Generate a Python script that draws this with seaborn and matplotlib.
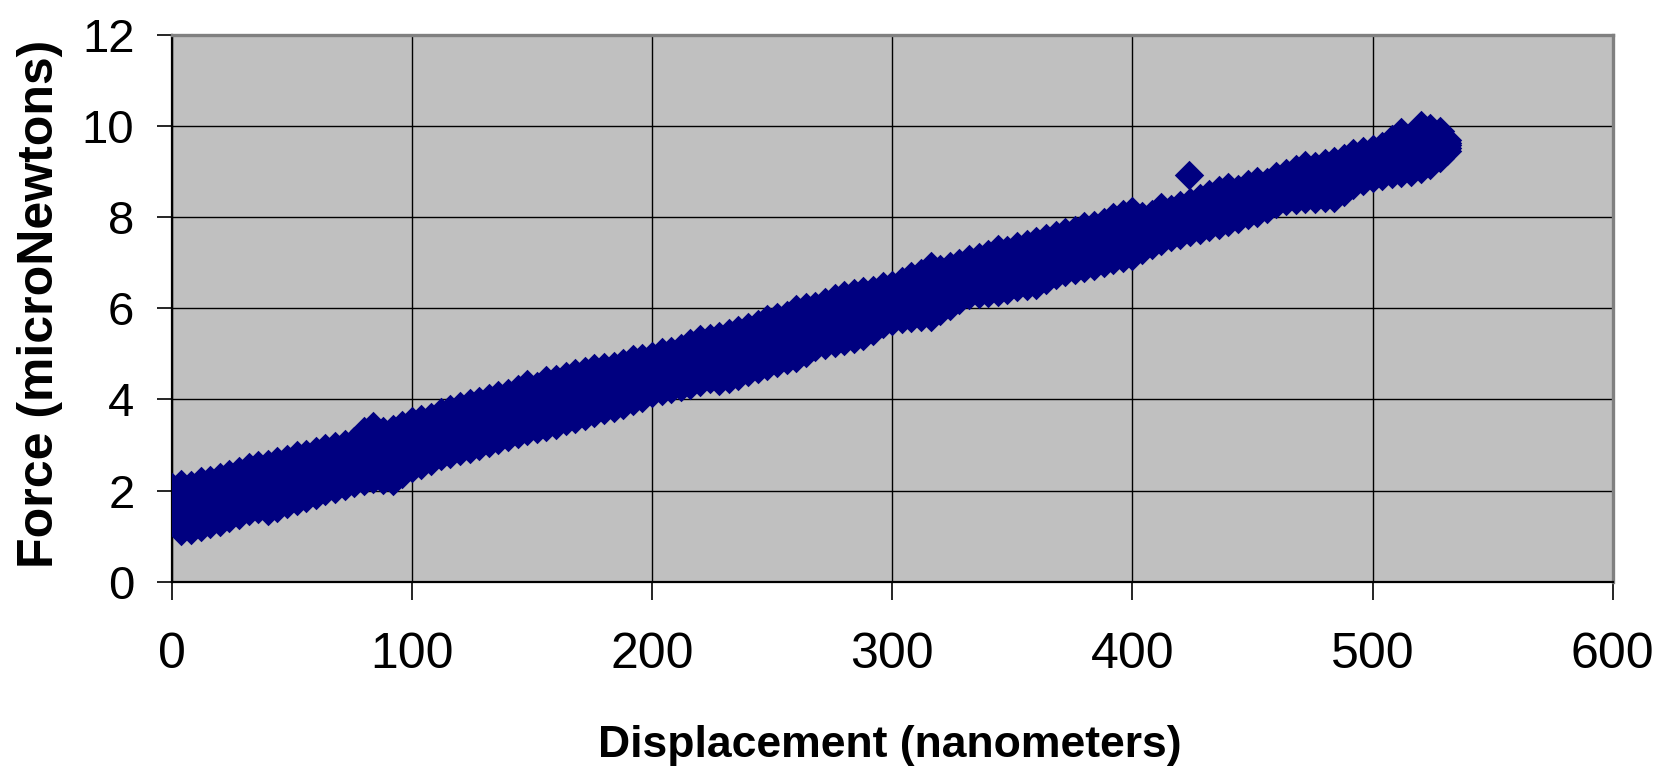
import matplotlib
matplotlib.use("Agg")
import matplotlib.pyplot as plt
import seaborn as sns
import pandas as pd

# ---- data (displacement in nm, force in microNewtons) ----
disp_nm = [0, 4, 8, 12, 16, 20, 24, 28, 32, 36, 40, 44, 48, 52, 56, 60, 64, 68, 72, 76,
           80, 84, 88, 92, 96, 100, 104, 108, 112, 116, 120, 124, 128, 132, 136, 140, 144, 148, 152, 156,
           160, 164, 168, 172, 176, 180, 184, 188, 192, 196, 200, 204, 208, 212, 216, 220, 224, 228, 232, 236,
           240, 244, 248, 252, 256, 260, 264, 268, 272, 276, 280, 284, 288, 292, 296, 300, 304, 308, 312, 316,
           320, 324, 328, 332, 336, 340, 344, 348, 352, 356, 360, 364, 368, 372, 376, 380, 384, 388, 392, 396,
           400, 404, 408, 412, 416, 420, 424, 428, 432, 436, 440, 444, 448, 452, 456, 460, 464, 468, 472, 476,
           480, 484, 488, 492, 496, 500, 504, 508, 512, 516, 520, 524, 528, 531]

force_lo = [1.40, 1.12, 1.14, 1.20, 1.26, 1.30, 1.40, 1.46, 1.56, 1.60, 1.56, 1.62, 1.70, 1.78, 1.84, 1.90, 1.98, 2.04, 2.10, 2.16,
            2.20, 2.26, 2.24, 2.20, 2.36, 2.50, 2.56, 2.66, 2.76, 2.80, 2.86, 2.92, 2.98, 3.04, 3.12, 3.18, 3.24, 3.30, 3.36, 3.40,
            3.44, 3.52, 3.58, 3.64, 3.70, 3.76, 3.82, 3.88, 3.96, 4.04, 4.14, 4.18, 4.22, 4.28, 4.32, 4.38, 4.46, 4.40, 4.44, 4.52,
            4.60, 4.66, 4.74, 4.80, 4.86, 4.92, 5.02, 5.16, 5.20, 5.24, 5.28, 5.32, 5.40, 5.50, 5.66, 5.72, 5.76, 5.78, 5.80, 5.82,
            5.94, 6.06, 6.18, 6.30, 6.32, 6.34, 6.36, 6.40, 6.46, 6.50, 6.52, 6.62, 6.74, 6.80, 6.84, 6.88, 6.94, 7.00, 7.06, 7.10,
            7.14, 7.28, 7.38, 7.48, 7.56, 7.62, 7.68, 7.72, 7.78, 7.84, 7.90, 7.96, 8.04, 8.10, 8.18, 8.28, 8.36, 8.38, 8.40, 8.40,
            8.42, 8.42, 8.56, 8.70, 8.80, 8.86, 8.90, 8.94, 8.96, 9.00, 9.06, 9.14, 9.30, 9.45]

force_q1 = [1.57, 1.37, 1.39, 1.45, 1.50, 1.55, 1.64, 1.70, 1.80, 1.84, 1.82, 1.88, 1.95, 2.03, 2.08, 2.14, 2.22, 2.27, 2.33, 2.39,
            2.48, 2.55, 2.51, 2.49, 2.63, 2.76, 2.82, 2.90, 3.00, 3.05, 3.11, 3.17, 3.23, 3.29, 3.37, 3.42, 3.49, 3.56, 3.60, 3.66,
            3.70, 3.77, 3.83, 3.89, 3.95, 4.00, 4.05, 4.11, 4.19, 4.26, 4.35, 4.40, 4.43, 4.50, 4.55, 4.62, 4.68, 4.65, 4.70, 4.77,
            4.85, 4.91, 5.00, 5.05, 5.11, 5.19, 5.27, 5.39, 5.44, 5.49, 5.54, 5.58, 5.65, 5.73, 5.87, 5.92, 5.97, 6.02, 6.05, 6.10,
            6.17, 6.28, 6.38, 6.50, 6.52, 6.56, 6.60, 6.62, 6.69, 6.73, 6.76, 6.85, 6.96, 7.02, 7.06, 7.11, 7.17, 7.23, 7.30, 7.35,
            7.39, 7.47, 7.55, 7.67, 7.72, 7.78, 7.85, 7.90, 7.96, 8.03, 8.09, 8.13, 8.21, 8.28, 8.33, 8.44, 8.52, 8.55, 8.59, 8.58,
            8.61, 8.63, 8.75, 8.88, 8.97, 9.02, 9.07, 9.14, 9.19, 9.19, 9.30, 9.35, 9.45, 9.51]

force_mid = [1.74, 1.63, 1.63, 1.70, 1.75, 1.80, 1.88, 1.94, 2.04, 2.08, 2.07, 2.14, 2.20, 2.28, 2.32, 2.38, 2.46, 2.51, 2.56, 2.62,
             2.75, 2.84, 2.77, 2.78, 2.90, 3.01, 3.07, 3.14, 3.24, 3.30, 3.36, 3.42, 3.47, 3.54, 3.61, 3.66, 3.74, 3.82, 3.83, 3.91,
             3.95, 4.02, 4.08, 4.13, 4.19, 4.24, 4.28, 4.34, 4.42, 4.47, 4.55, 4.61, 4.64, 4.71, 4.78, 4.85, 4.90, 4.90, 4.95, 5.02,
             5.10, 5.16, 5.25, 5.30, 5.36, 5.45, 5.52, 5.61, 5.67, 5.73, 5.79, 5.83, 5.89, 5.95, 6.07, 6.12, 6.18, 6.25, 6.29, 6.37,
             6.40, 6.50, 6.59, 6.69, 6.72, 6.77, 6.83, 6.84, 6.91, 6.96, 7.00, 7.08, 7.17, 7.24, 7.28, 7.34, 7.39, 7.45, 7.53, 7.59,
             7.64, 7.65, 7.72, 7.85, 7.87, 7.94, 8.01, 8.07, 8.14, 8.22, 8.28, 8.29, 8.38, 8.45, 8.48, 8.59, 8.67, 8.72, 8.77, 8.76,
             8.80, 8.83, 8.93, 9.05, 9.13, 9.18, 9.23, 9.33, 9.41, 9.37, 9.54, 9.55, 9.60, 9.58]

force_q3 = [1.91, 1.88, 1.87, 1.95, 2.00, 2.05, 2.12, 2.18, 2.28, 2.32, 2.33, 2.40, 2.45, 2.53, 2.56, 2.62, 2.70, 2.74, 2.79, 2.85,
            3.03, 3.13, 3.04, 3.07, 3.17, 3.27, 3.33, 3.38, 3.48, 3.55, 3.61, 3.67, 3.72, 3.79, 3.86, 3.90, 3.99, 4.08, 4.07, 4.17,
            4.21, 4.27, 4.33, 4.38, 4.44, 4.48, 4.51, 4.57, 4.65, 4.69, 4.76, 4.83, 4.85, 4.93, 5.01, 5.09, 5.12, 5.15, 5.21, 5.27,
            5.35, 5.41, 5.51, 5.55, 5.61, 5.72, 5.77, 5.84, 5.91, 5.98, 6.05, 6.09, 6.14, 6.18, 6.28, 6.32, 6.39, 6.49, 6.54, 6.65,
            6.63, 6.72, 6.79, 6.89, 6.92, 6.99, 7.07, 7.06, 7.14, 7.19, 7.24, 7.31, 7.39, 7.46, 7.50, 7.57, 7.62, 7.68, 7.77, 7.84,
            7.89, 7.84, 7.89, 8.04, 8.03, 8.10, 8.18, 8.25, 8.32, 8.41, 8.47, 8.46, 8.55, 8.63, 8.63, 8.75, 8.83, 8.89, 8.96, 8.94,
            8.99, 9.04, 9.12, 9.23, 9.30, 9.34, 9.40, 9.53, 9.64, 9.56, 9.78, 9.76, 9.75, 9.64]

force_hi = [2.08, 2.14, 2.12, 2.20, 2.24, 2.30, 2.36, 2.42, 2.52, 2.56, 2.58, 2.66, 2.70, 2.78, 2.80, 2.86, 2.94, 2.98, 3.02, 3.08,
            3.30, 3.42, 3.30, 3.36, 3.44, 3.52, 3.58, 3.62, 3.72, 3.80, 3.86, 3.92, 3.96, 4.04, 4.10, 4.14, 4.24, 4.34, 4.30, 4.42,
            4.46, 4.52, 4.58, 4.62, 4.68, 4.72, 4.74, 4.80, 4.88, 4.90, 4.96, 5.04, 5.06, 5.14, 5.24, 5.32, 5.34, 5.40, 5.46, 5.52,
            5.60, 5.66, 5.76, 5.80, 5.86, 5.98, 6.02, 6.06, 6.14, 6.22, 6.30, 6.34, 6.38, 6.40, 6.48, 6.52, 6.60, 6.72, 6.78, 6.92,
            6.86, 6.94, 7.00, 7.08, 7.12, 7.20, 7.30, 7.28, 7.36, 7.42, 7.48, 7.54, 7.60, 7.68, 7.72, 7.80, 7.84, 7.90, 8.00, 8.08,
            8.14, 8.02, 8.06, 8.22, 8.18, 8.26, 8.34, 8.42, 8.50, 8.60, 8.66, 8.62, 8.72, 8.80, 8.78, 8.90, 8.98, 9.06, 9.14, 9.12,
            9.18, 9.24, 9.30, 9.40, 9.46, 9.50, 9.56, 9.72, 9.86, 9.74, 10.02, 9.96, 9.90, 9.70]

outlier_nm = [423.5]
outlier_force = [8.93]

x_ticks = [0, 100, 200, 300, 400, 500, 600]
y_ticks = [0, 2, 4, 6, 8, 10, 12]
x_label = "Displacement (nanometers)"
y_label = "Force (microNewtons)"

# ---- long table for seaborn ----
disp_all = disp_nm * 5 + outlier_nm
force_all = force_lo + force_q1 + force_mid + force_q3 + force_hi + outlier_force
df = pd.DataFrame({"Displacement": disp_all, "Force": force_all})

plt.rcParams["font.family"] = ["Liberation Sans", "DejaVu Sans"]

fig = plt.figure(figsize=(16.6, 7.76), dpi=100)
W, H = 1660.0, 776.0
left, right, top, bottom = 171.7, 1612.7, 35.0, 581.7
ax = fig.add_axes([left / W, 1 - bottom / H, (right - left) / W, (bottom - top) / H])
ax.set_facecolor("#C0C0C0")

sns.scatterplot(data=df, x="Displacement", y="Force", ax=ax, marker="D", s=225,
                color="#000080", linewidth=0, alpha=1.0, zorder=3, legend=False)

ax.set_xlim(0, 600)
ax.set_ylim(0, 12)
ax.set_xticks(x_ticks)
ax.set_yticks(y_ticks)
ax.set_xticklabels([str(v) for v in x_ticks], fontsize=36)
ax.set_yticklabels([str(v) for v in y_ticks], fontsize=34)

ax.grid(True, color="black", linewidth=1.0)
ax.set_axisbelow(True)

ax.tick_params(axis="y", direction="out", length=10.8, width=1.2, color="black", pad=16)
ax.tick_params(axis="x", direction="out", length=13, width=1.2, color="black", pad=23)

for s in ["top", "right"]:
    ax.spines[s].set_color("#808080")
    ax.spines[s].set_linewidth(2.4)
for s in ["left", "bottom"]:
    ax.spines[s].set_color("black")
    ax.spines[s].set_linewidth(1.6)

ax.set_xlabel(x_label, fontsize=32, fontweight="bold", va="center")
ax.set_ylabel(y_label, fontsize=36, fontweight="bold", va="center")
ax.xaxis.set_label_coords(0.4985, (bottom - 746) / (bottom - top))
ax.yaxis.set_label_coords((40 - left) / (right - left), 0.508)

fig.savefig("out.png", dpi=100, facecolor="white")
